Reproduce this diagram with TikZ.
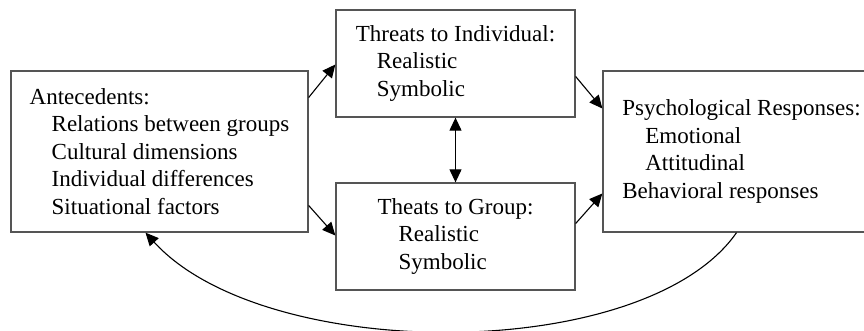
\documentclass[tikz,border=0pt]{standalone}
\usepackage{fontspec}
\setmainfont{Liberation Serif}
\usepackage{tikz}
\usetikzlibrary{arrows.meta}
\definecolor{boxgray}{RGB}{85, 85, 85}

\begin{document}
\begin{tikzpicture}[x=1pt, y=-1pt,
    box/.style={draw=boxgray, line width=1.3pt, inner sep=0pt, align=left,
        font=\fontsize{23}{27.5}\selectfont},
    link/.style={line width=1.1pt, -{Triangle[length=13pt, width=12pt]}},
    both/.style={line width=1.1pt, {Triangle[length=13pt, width=12pt]}-{Triangle[length=13pt, width=12pt]}}]
\useasboundingbox (0,0) rectangle (864,331);
\clip (0,0) rectangle (864,331);

% Boxes
\node[box, minimum width=297pt, minimum height=161pt] (ante) at (159.5,151.5)
    {Antecedents:\\
     \hspace*{22pt}Relations between groups\\
     \hspace*{22pt}Cultural dimensions\\
     \hspace*{22pt}Individual differences\\
     \hspace*{22pt}Situational factors};
\node[box, minimum width=239pt, minimum height=107pt] (thrind) at (455.5,63.5)
    {Threats to Individual:\\
     \hspace*{21pt}Realistic\\
     \hspace*{21pt}Symbolic};
\node[box, minimum width=239pt, minimum height=107pt] (thrgrp) at (455.5,236.5)
    {Theats to Group:\\
     \hspace*{21pt}Realistic\\
     \hspace*{21pt}Symbolic};
\node[box, minimum width=277pt, minimum height=161pt] (resp) at (741.5,151.5)
    {Psychological Responses:\\
     \hspace*{23pt}Emotional\\
     \hspace*{23pt}Attitudinal\\
     Behavioral responses};

% Arrows
\draw[link] ([yshift=54pt]ante.east) -- ([yshift=-1pt]thrind.west);
\draw[link] ([yshift=-54pt]ante.east) -- ([yshift=1pt]thrgrp.west);
\draw[link] ([yshift=-13pt]thrind.east) -- ([yshift=43pt]resp.west);
\draw[link] ([yshift=13pt]thrgrp.east) -- ([yshift=-42pt]resp.west);
\draw[both] (thrind.south) -- (thrgrp.north);

% Feedback
\draw[link] ([xshift=-5pt]resp.south) .. controls (645,364) and (265,364) .. ([xshift=-14pt]ante.south);
\end{tikzpicture}
\end{document}
